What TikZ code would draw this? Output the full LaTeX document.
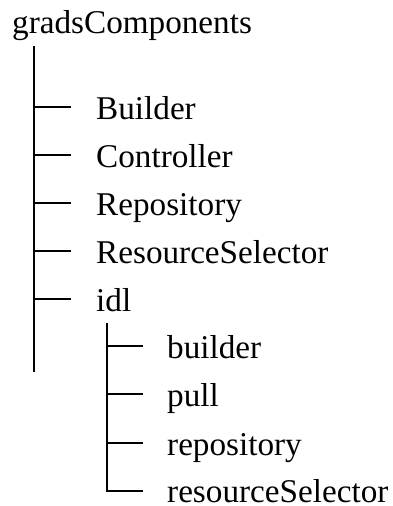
\documentclass[tikz,border=0pt]{standalone}
\usepackage{fontspec}
\setmainfont{Liberation Serif}
\usetikzlibrary{calc}
\begin{document}
\begin{tikzpicture}[x=1pt,y=-1pt,
  lbl/.style={anchor=base west,inner sep=0pt,font=\fontsize{33.2}{40}\selectfont},
  treeline/.style={line width=2pt,black}]
\useasboundingbox (0,0) rectangle (392,506);
% root
\node[lbl] (root) at (12,33) {gradsComponents};
% main level children (branch y = baseline - 12)
\node[lbl] (builder) at (96,119) {Builder};
\node[lbl] (controller) at (96,167) {Controller};
\node[lbl] (repository) at (96,215) {Repository};
\node[lbl] (selector) at (96,263) {ResourceSelector};
\node[lbl] (idl) at (96,311) {idl};
% idl children
\node[lbl] (ibuilder) at (167,358) {builder};
\node[lbl] (ipull) at (167,406) {pull};
\node[lbl] (irepo) at (167,455) {repository};
\node[lbl] (isel) at (167,502) {resourceSelector};
% main trunk
\coordinate (t0) at (34,46);
\coordinate (t1) at (34,372);
\draw[treeline] (t0) -- (t1);
\foreach \n in {builder,controller,repository,selector,idl}{
  \coordinate (b-\n) at ($(\n.base)+(0,-12)$);
  \draw[treeline] (t0 |- b-\n) -- ++(37,0);
}
% idl trunk
\coordinate (s0) at (107,323);
\foreach \n in {ibuilder,ipull,irepo}{
  \coordinate (b-\n) at ($(\n.base)+(0,-12)$);
  \draw[treeline] (s0 |- b-\n) -- ++(36,0);
}
\coordinate (b-isel) at ($(isel.base west)+(-24,-11)$);
\draw[treeline] (s0) |- (b-isel);
\end{tikzpicture}
\end{document}
